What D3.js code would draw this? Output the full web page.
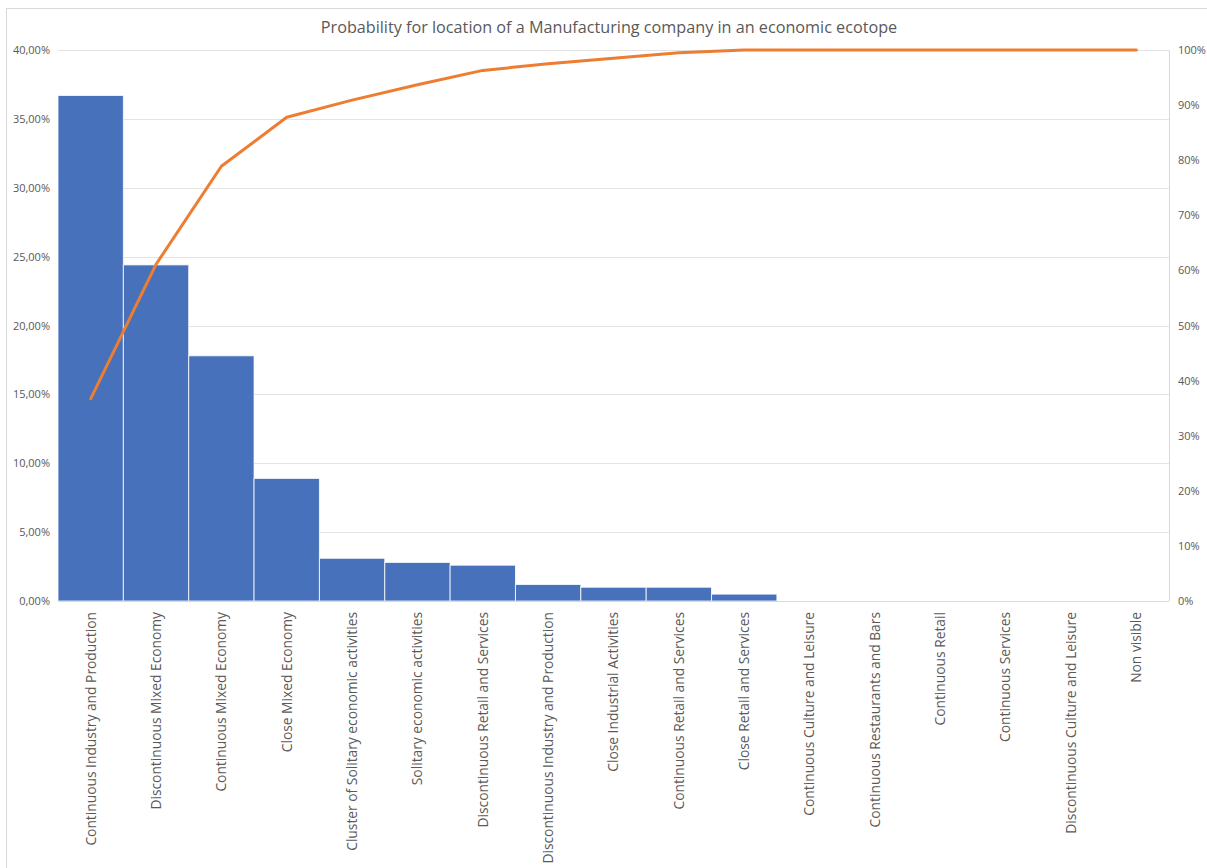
<!DOCTYPE html>
<html>
<head>
<meta charset="utf-8">
<script src="https://cdn.jsdelivr.net/npm/d3@7"></script>
<style>
  html, body { margin: 0; padding: 0; background: #fff; }
  svg { display: block; }
  text { font-family: "Open Sans", "DejaVu Sans", sans-serif; fill: #595959; }
</style>
</head>
<body>
<svg id="chart" width="1207" height="868"></svg>
<script>
// Ecotope categories, sorted by probability (Pareto order)
const categories = [
  "Continuous Industry and Production",
  "Discontinuous Mixed Economy",
  "Continuous Mixed Economy",
  "Close Mixed Economy",
  "Cluster of Solitary economic activities",
  "Solitary economic activities",
  "Discontinuous Retail and Services",
  "Discontinuous Industry and Production",
  "Close Industrial Activities",
  "Continuous Retail and Services",
  "Close Retail and Services",
  "Continuous Culture and Leisure",
  "Continuous Restaurants and Bars",
  "Continuous Retail",
  "Continuous Services",
  "Discontinuous Culture and Leisure",
  "Non visible"
];

// Probability of location per ecotope (%)
const probability = [36.7, 24.4, 17.8, 8.9, 3.1, 2.8, 2.6, 1.2, 1.0, 1.0, 0.5, 0, 0, 0, 0, 0, 0];

// Axis tick values
const leftTicks = [0, 5, 10, 15, 20, 25, 30, 35, 40];
const rightTicks = [0, 10, 20, 30, 40, 50, 60, 70, 80, 90, 100];

const title = "Probability for location of a Manufacturing company in an economic ecotope";

// Cumulative share for the Pareto line
const cumulative = Array.from(d3.cumsum(probability));

const svg = d3.select("#chart");
const plot = { left: 58, right: 1169, top: 50, bottom: 601 };

// Chart frame
svg.append("rect")
  .attr("x", 6.5).attr("y", 8.5)
  .attr("width", 1220).attr("height", 880)
  .attr("fill", "none").attr("stroke", "#d9d9d9").attr("stroke-width", 1);

const x = d3.scaleBand().domain(categories).range([plot.left, plot.right]).padding(0);
const yLeft = d3.scaleLinear().domain([0, 40]).range([plot.bottom, plot.top]);
const yRight = d3.scaleLinear().domain([0, 100]).range([plot.bottom, plot.top]);

const fmtLeft = v => v.toFixed(2).replace(".", ",") + "%";
const fmtRight = v => v + "%";

// Horizontal gridlines
svg.append("g")
  .selectAll("line").data(leftTicks.filter(t => t > 0)).join("line")
  .attr("x1", plot.left).attr("x2", plot.right)
  .attr("y1", d => Math.round(yLeft(d)) + 0.5).attr("y2", d => Math.round(yLeft(d)) + 0.5)
  .attr("stroke", "#e3e3e3").attr("stroke-width", 1);

// Right plot border
svg.append("line")
  .attr("x1", plot.right + 0.5).attr("x2", plot.right + 0.5)
  .attr("y1", plot.top).attr("y2", plot.bottom)
  .attr("stroke", "#d9d9d9");

// Bars
svg.append("g")
  .selectAll("rect").data(categories).join("rect")
  .attr("x", d => x(d))
  .attr("width", x.bandwidth())
  .attr("y", (d, i) => yLeft(probability[i]))
  .attr("height", (d, i) => plot.bottom - yLeft(probability[i]))
  .attr("fill", "#4771BA")
  .attr("stroke", "#ffffff").attr("stroke-width", 1)
  .attr("stroke-opacity", 0.8);

// Category axis line
svg.append("line")
  .attr("x1", plot.left).attr("x2", plot.right)
  .attr("y1", plot.bottom + 0.5).attr("y2", plot.bottom + 0.5)
  .attr("stroke", "#d9d9d9");

// Cumulative line
const line = d3.line()
  .x((d, i) => x(categories[i]) + x.bandwidth() / 2)
  .y(d => yRight(d));
svg.append("path")
  .datum(cumulative)
  .attr("d", line)
  .attr("fill", "none")
  .attr("stroke", "#ED7D31")
  .attr("stroke-width", 3)
  .attr("stroke-linejoin", "round")
  .attr("stroke-linecap", "round");

// Left axis
const leftAxis = d3.axisLeft(yLeft).tickValues(leftTicks).tickFormat(fmtLeft).tickSize(0).tickPadding(8);
const gL = svg.append("g").attr("transform", `translate(${plot.left},0)`).call(leftAxis);
gL.select(".domain").remove();
gL.selectAll("text").style("font-size", "11px").attr("fill", "#595959").attr("font-family", null);

// Right axis
const rightAxis = d3.axisRight(yRight).tickValues(rightTicks).tickFormat(fmtRight).tickSize(0).tickPadding(9);
const gR = svg.append("g").attr("transform", `translate(${plot.right},0)`).call(rightAxis);
gR.select(".domain").remove();
gR.selectAll("text").style("font-size", "11px").attr("fill", "#595959").attr("font-family", null);

// Category labels (rotated)
const bottomAxis = d3.axisBottom(x).tickSize(0).tickPadding(0);
const gB = svg.append("g").attr("transform", `translate(0,${plot.bottom})`).call(bottomAxis);
gB.select(".domain").remove();
gB.selectAll("text")
  .attr("font-family", null)
  .style("font-size", "13.8px")
  .attr("fill", "#595959")
  .attr("text-anchor", "end")
  .attr("transform", "rotate(-90)")
  .attr("x", -11)
  .attr("y", 0)
  .attr("dy", "0.35em");

// Title
svg.append("text")
  .attr("x", 609).attr("y", 33)
  .attr("text-anchor", "middle")
  .style("font-size", "16.2px")
  .attr("fill", "#595959")
  .text(title);
</script>
</body>
</html>
